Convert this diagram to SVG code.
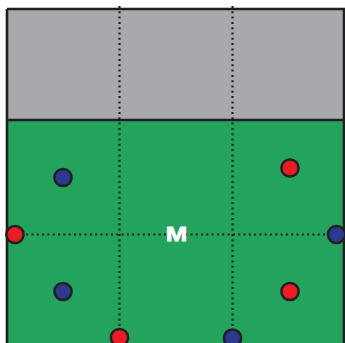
<svg xmlns="http://www.w3.org/2000/svg" width="345" height="343" viewBox="0 0 345 343">
<style>
.dot{stroke:#231f20;stroke-width:2.2;stroke-dasharray:2 3.3;fill:none}
.red{fill:#ed1c24;stroke:#231f20;stroke-width:2.5}
.blue{fill:#2b3990;stroke:#231f20;stroke-width:2.5}
</style>
<rect x="0" y="0" width="345" height="343" fill="#ffffff"/>
<g id="field">
<rect x="7" y="9" width="337" height="111" fill="#a7a9ac"/>
<rect x="7" y="120" width="337" height="230" fill="#22a45d"/>
<path d="M7 9 H344 V350 M7 9 V350 M7 120 H344" fill="none" stroke="#231f20" stroke-width="2.6"/>
</g>
<g id="connectors">
<line class="dot" x1="119.5" y1="6" x2="119.5" y2="343"/>
<line class="dot" x1="232.5" y1="6" x2="232.5" y2="343"/>
<line class="dot" x1="5" y1="234.5" x2="340" y2="234.5"/>
</g>
<g id="label-M"><text x="176.5" y="241" text-anchor="middle" font-family="Liberation Sans, Arial, sans-serif" font-weight="bold" font-size="21" fill="#ffffff" stroke="#ffffff" stroke-width="0.8" textLength="21.5" lengthAdjust="spacingAndGlyphs">M</text></g>
<g id="r1"><circle class="red" cx="15" cy="234.5" r="8.6"/></g>
<g id="b1"><circle class="blue" cx="63" cy="177.5" r="8.6"/></g>
<g id="b2"><circle class="blue" cx="63" cy="291.5" r="8.6"/></g>
<g id="r2"><circle class="red" cx="290" cy="168" r="8.6"/></g>
<g id="b3"><circle class="blue" cx="336.5" cy="234.5" r="8.6"/></g>
<g id="r3"><circle class="red" cx="290" cy="291.5" r="8.6"/></g>
<g id="r4"><circle class="red" cx="119.5" cy="337.5" r="8.6"/></g>
<g id="b4"><circle class="blue" cx="232.5" cy="338" r="8.6"/></g>
</svg>
